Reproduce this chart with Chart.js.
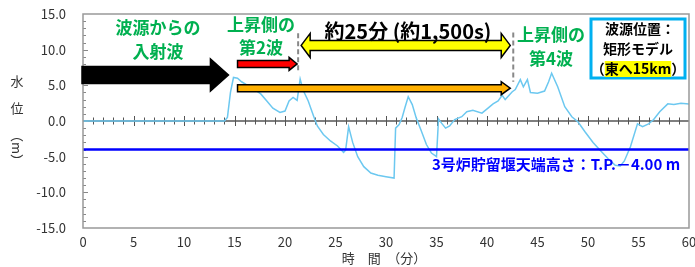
<!DOCTYPE html>
<html>
<head>
<meta charset="utf-8">
<script src="https://cdn.jsdelivr.net/npm/chart.js@4.4.1/dist/chart.umd.min.js"></script>
<style>
  html, body { margin: 0; padding: 0; background: #fff; }
  #wrap { width: 695px; height: 267px; }
</style>
</head>
<body>
<div id="wrap"><canvas id="c" width="695" height="267"></canvas></div>
<script>
// 時間（分）と水位（m）: 図から読み取った値
const minutes = [0, 14.0, 14.3, 14.6, 14.9, 15.3, 15.7, 16.3, 17.0, 17.6, 18.2, 18.8, 19.5, 20.0, 20.4, 20.8,
  21.2, 21.5, 21.8, 22.3, 22.8, 23.2, 23.8, 24.5, 25.2, 25.8, 26.0, 26.3, 26.7, 27.2, 27.8, 28.5, 29.2, 30.0,
  30.8, 30.95, 31.3, 31.6, 31.9, 32.2, 32.6, 33.0, 33.5, 34.0, 34.5, 35.0, 35.2, 35.5, 35.9, 36.3, 36.8,
  37.5, 38.0, 38.6, 39.5, 40.1, 40.6, 41.1, 41.5, 41.8, 42.5, 42.8, 43.3, 43.6, 44.0, 44.3, 45.0, 45.7,
  46.1, 46.4, 47.0, 47.7, 48.4, 49.0, 49.7, 50.5, 51.2, 52.0, 52.7, 53.2, 53.6, 54.2, 54.9, 55.4, 56.0,
  56.5, 57.1, 57.9, 58.5, 59.2, 60];
const waterLevel = [0, 0, 0.5, 4.0, 6.1, 6.0, 5.5, 5.0, 4.4, 3.8, 2.8, 1.8, 1.2, 1.4, 2.8, 3.3,
  2.9, 5.9, 4.3, 2.8, 0.8, -0.7, -1.9, -2.8, -3.5, -4.4, -4.1, -0.8, -3.0, -5.0, -6.4, -7.3, -7.6, -7.8,
  -8.0, -1.0, -0.5, 0.5, 2.0, 3.4, 2.3, 0.4, -1.4, -3.3, -4.5, -5.0, 0.3, -0.3, -1.0, -0.7, 0.2,
  0.6, 1.3, 1.5, 1.1, 1.8, 2.4, 2.8, 3.6, 3.0, 4.1, 4.4, 5.8, 4.8, 5.8, 4.0, 3.9, 4.2,
  5.5, 6.7, 4.8, 2.0, 0.6, -0.1, -1.5, -3.0, -4.1, -5.3, -6.2, -6.3, -5.6, -3.6, -0.4, -0.8, -0.4,
  0.2, 1.3, 2.4, 2.3, 2.5, 2.4];
// 3号炉貯留堰天端高さ
const weirLevel = -4.0;
const xTicks = [0, 5, 10, 15, 20, 25, 30, 35, 40, 45, 50, 55, 60];
const yTicks = [15, 10, 5, 0, -5, -10, -15];

const JP = '"Noto Sans CJK JP", "Noto Sans", sans-serif';
const GREEN = '#00b050';

// 矢印（データ座標で指定）
function drawArrow(ctx, x1, x2, y, shaftH, headH, headL, fill, both) {
  ctx.beginPath();
  if (both) {
    ctx.moveTo(x1, y);
    ctx.lineTo(x1 + headL, y - headH);
    ctx.lineTo(x1 + headL, y - shaftH);
    ctx.lineTo(x2 - headL, y - shaftH);
    ctx.lineTo(x2 - headL, y - headH);
    ctx.lineTo(x2, y);
    ctx.lineTo(x2 - headL, y + headH);
    ctx.lineTo(x2 - headL, y + shaftH);
    ctx.lineTo(x1 + headL, y + shaftH);
    ctx.lineTo(x1 + headL, y + headH);
  } else {
    ctx.moveTo(x1, y - shaftH);
    ctx.lineTo(x2 - headL, y - shaftH);
    ctx.lineTo(x2 - headL, y - headH);
    ctx.lineTo(x2, y);
    ctx.lineTo(x2 - headL, y + headH);
    ctx.lineTo(x2 - headL, y + shaftH);
    ctx.lineTo(x1, y + shaftH);
  }
  ctx.closePath();
  ctx.fillStyle = fill;
  ctx.fill();
  ctx.strokeStyle = '#000';
  ctx.lineWidth = 1.5;
  ctx.stroke();
}

const decor = {
  id: 'decor',
  beforeDatasetsDraw(chart) {
    const ctx = chart.ctx;
    const xs = chart.scales.x, ys = chart.scales.y;
    const a = chart.chartArea;
    const y0 = ys.getPixelForValue(0);
    ctx.save();
    // 0 m の軸と目盛
    ctx.strokeStyle = '#555';
    ctx.lineWidth = 1.5;
    ctx.beginPath();
    ctx.moveTo(a.left, y0);
    ctx.lineTo(a.right, y0);
    ctx.stroke();
    ctx.lineWidth = 1;
    for (let t = 1; t < 60; t++) {
      const px = Math.round(xs.getPixelForValue(t)) + 0.5;
      const h = (t % 5 === 0) ? 5 : 3.5;
      ctx.beginPath();
      ctx.moveTo(px, y0 - h);
      ctx.lineTo(px, y0 + h);
      ctx.stroke();
    }
    // 縦軸の補助目盛
    ctx.strokeStyle = '#888';
    for (let v = -14; v < 15; v++) {
      const py = Math.round(ys.getPixelForValue(v)) + 0.5;
      const l = (v % 5 === 0) ? 5 : 3;
      ctx.beginPath();
      ctx.moveTo(a.left, py);
      ctx.lineTo(a.left + l, py);
      ctx.stroke();
    }
    ctx.restore();
  },
  afterDraw(chart) {
    const ctx = chart.ctx;
    const xs = chart.scales.x, ys = chart.scales.y;
    const a = chart.chartArea;
    const X = v => xs.getPixelForValue(v);
    const Y = v => ys.getPixelForValue(v);
    ctx.save();
    // 枠
    ctx.strokeStyle = '#999';
    ctx.lineWidth = 1.5;
    ctx.strokeRect(a.left, a.top, a.right - a.left, a.bottom - a.top);

    // 破線
    ctx.strokeStyle = '#888';
    ctx.lineWidth = 2;
    ctx.setLineDash([5, 3]);
    ctx.beginPath();
    ctx.moveTo(X(21.3), Y(12.3)); ctx.lineTo(X(21.3), Y(6.9));
    ctx.moveTo(X(42.6), Y(12.4)); ctx.lineTo(X(42.6), Y(5.5));
    ctx.stroke();
    ctx.setLineDash([]);

    // 矢印
    drawArrow(ctx, a.left - 1, X(14.4), Y(6.45), 8.5, 16, 18, '#000', false);
    drawArrow(ctx, X(15.3), X(21.2), Y(8.0), 3.5, 6.5, 8, '#ff0000', false);
    drawArrow(ctx, X(21.6), X(42.3), Y(10.6), 5, 12, 9, '#ffff00', true);
    drawArrow(ctx, X(15.3), X(42.3), Y(4.6), 3.5, 6.5, 9, '#ffb000', false);

    // 緑の注記
    ctx.textAlign = 'center';
    ctx.textBaseline = 'middle';
    ctx.fillStyle = GREEN;
    ctx.font = 'bold 17px ' + JP;
    ctx.fillText('波源からの', 158, 28);
    ctx.fillText('入射波', 158, 52);
    ctx.fillText('上昇側の', 261, 25);
    ctx.fillText('第2波', 261, 48);
    ctx.fillText('上昇側の', 551, 35);
    ctx.fillText('第4波', 551, 59);

    // 約25分
    ctx.fillStyle = '#000';
    ctx.font = 'bold 20px ' + JP;
    ctx.fillText('約25分 (約1,500s)', 408, 31);

    // 波源位置の枠
    ctx.strokeStyle = '#00b0f0';
    ctx.lineWidth = 3;
    ctx.strokeRect(591, 19, 94, 59);
    ctx.font = 'bold 14px ' + JP;
    ctx.fillStyle = '#000';
    ctx.fillText('波源位置：', 640, 29);
    ctx.fillText('矩形モデル', 638, 49);
    const paren = '（東へ15km）';
    ctx.textAlign = 'left';
    const wAll = ctx.measureText(paren).width;
    const wL = ctx.measureText('（').width;
    const wMid = ctx.measureText('東へ15km').width;
    const sx = 638 - wAll / 2;
    ctx.fillStyle = '#ffff00';
    ctx.fillRect(sx + wL, 61, wMid, 16);
    ctx.fillStyle = '#000';
    ctx.fillText(paren, sx, 69);

    // 貯留堰天端高さ
    ctx.fillStyle = '#0000ff';
    ctx.font = 'bold 15px ' + JP;
    ctx.textAlign = 'left';
    ctx.fillText('3号炉貯留堰天端高さ：T.P.－4.00 m', 432, 164);

    // 軸タイトル
    ctx.fillStyle = '#333';
    ctx.font = '13px ' + JP;
    ctx.textAlign = 'center';
    ctx.fillText('水', 17, 81);
    ctx.fillText('位', 17, 108);
    ctx.save();
    ctx.translate(17, 148);
    ctx.rotate(Math.PI / 2);
    ctx.fillText('（m）', 0, 0);
    ctx.restore();
    ctx.fillText('時　間　（分）', 384, 258);
    ctx.restore();
  }
};

new Chart(document.getElementById('c'), {
  type: 'line',
  data: {
    datasets: [
      {
        data: [{ x: 0, y: weirLevel }, { x: 60, y: weirLevel }],
        borderColor: '#0000ff',
        borderWidth: 2.5,
        pointRadius: 0
      },
      {
        data: minutes.map((t, i) => ({ x: t, y: waterLevel[i] })),
        borderColor: '#6cc8f0',
        borderWidth: 1.5,
        pointRadius: 0,
        tension: 0
      }
    ]
  },
  options: {
    responsive: false,
    animation: false,
    devicePixelRatio: 1,
    layout: { padding: { top: 14, right: 6, left: 0, bottom: 0 } },
    plugins: { legend: { display: false }, tooltip: { enabled: false } },
    scales: {
      x: {
        type: 'linear', min: 0, max: 60,
        afterBuildTicks: s => { s.ticks = xTicks.map(v => ({ value: v })); },
        afterFit: s => { s.height = 39; s.paddingLeft = 0; s.paddingRight = 0; },
        grid: { display: false, drawTicks: false },
        border: { display: false },
        ticks: { padding: 6, color: '#333', font: { family: JP, size: 13 }, maxRotation: 0 }
      },
      y: {
        type: 'linear', min: -15, max: 15,
        afterBuildTicks: s => { s.ticks = yTicks.map(v => ({ value: v })); },
        afterFit: s => { s.width = 83; s.paddingTop = 0; s.paddingBottom = 0; },
        grid: { display: false, drawTicks: false },
        border: { display: false },
        ticks: { padding: 17, color: '#333', font: { family: JP, size: 13 }, callback: v => v.toFixed(1) }
      }
    }
  },
  plugins: [decor]
});
</script>
</body>
</html>
